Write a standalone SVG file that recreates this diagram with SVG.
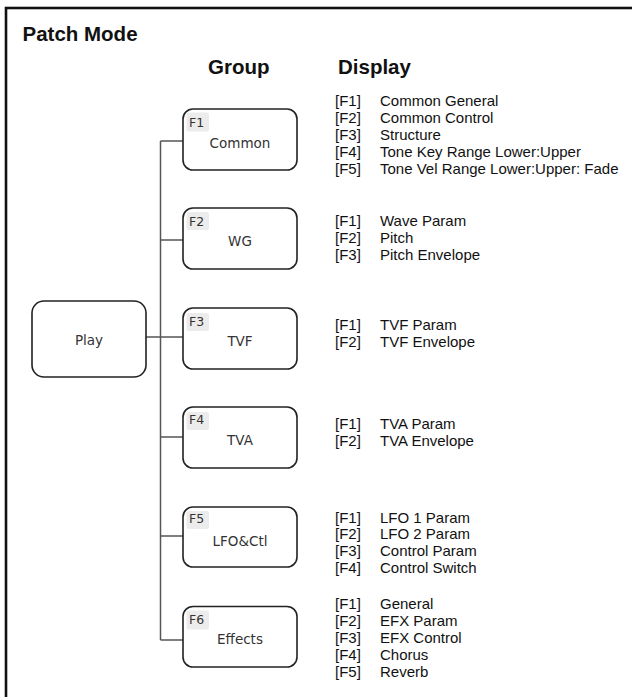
<svg xmlns="http://www.w3.org/2000/svg" width="632" height="697" viewBox="0 0 632 697">
<style>
.frame{fill:none;stroke:#111;stroke-width:2.6}
.title{font-family:"Liberation Sans",Arial,sans-serif;font-weight:bold;font-size:20.5px;fill:#111}
.box{fill:#fff;stroke:#222;stroke-width:1.6}
.tag{fill:#ececec}
.tagt{font-family:"DejaVu Sans",sans-serif;font-size:12.5px;fill:#333}
.lbl{font-family:"DejaVu Sans",sans-serif;font-size:13.5px;fill:#333;text-anchor:middle}
.conn{fill:none;stroke:#555;stroke-width:1.5}
.d{font-family:"Liberation Sans",Arial,sans-serif;font-size:15px;fill:#111}
</style>
<rect class="frame" x="6" y="8" width="700" height="750"/>
<text class="title" x="22.5" y="40.5">Patch Mode</text>
<text class="title" x="208" y="74">Group</text>
<text class="title" x="338" y="74">Display</text>

<g id="connectors">
<path class="conn" d="M160.5 141 V640"/>
<path class="conn" d="M160.5 141 H183"/>
<path class="conn" d="M160.5 240 H183"/>
<path class="conn" d="M146 337 H183"/>
<path class="conn" d="M160.5 437 H183"/>
<path class="conn" d="M160.5 536 H183"/>
<path class="conn" d="M160.5 640 H183"/>
</g>

<g id="play">
<rect class="box" x="32" y="301" width="114" height="76" rx="12"/>
<text class="lbl" x="89" y="345">Play</text>
</g>

<g id="common">
<rect class="box" x="183" y="109" width="114" height="61" rx="10"/>
<rect class="tag" x="186.5" y="112.5" width="22.5" height="19" rx="2"/>
<text class="tagt" x="189" y="127">F1</text>
<text class="lbl" x="240" y="147.5">Common</text>
</g>
<g id="wg">
<rect class="box" x="183" y="208" width="114" height="61" rx="10"/>
<rect class="tag" x="186.5" y="212" width="22.5" height="18" rx="2"/>
<text class="tagt" x="189" y="226">F2</text>
<text class="lbl" x="240" y="246">WG</text>
</g>
<g id="tvf">
<rect class="box" x="183" y="308" width="114" height="61" rx="10"/>
<rect class="tag" x="186.5" y="313" width="22.5" height="18" rx="2"/>
<text class="tagt" x="189" y="326">F3</text>
<text class="lbl" x="240" y="346">TVF</text>
</g>
<g id="tva">
<rect class="box" x="183" y="407" width="114" height="61" rx="10"/>
<rect class="tag" x="186.5" y="412" width="22.5" height="18" rx="2"/>
<text class="tagt" x="189" y="424">F4</text>
<text class="lbl" x="240" y="445">TVA</text>
</g>
<g id="lfo">
<rect class="box" x="183" y="507" width="114" height="60" rx="10"/>
<rect class="tag" x="186.5" y="511" width="22.5" height="18" rx="2"/>
<text class="tagt" x="189" y="523">F5</text>
<text class="lbl" x="240" y="546">LFO&amp;Ctl</text>
</g>
<g id="effects">
<rect class="box" x="183" y="606.5" width="114" height="60.5" rx="10"/>
<rect class="tag" x="186.5" y="610.5" width="22.5" height="19" rx="2"/>
<text class="tagt" x="189" y="624">F6</text>
<text class="lbl" x="240" y="644">Effects</text>
</g>

<g id="display-common">
<text class="d" x="335" y="106">[F1]</text><text class="d" x="380" y="106">Common General</text>
<text class="d" x="335" y="123">[F2]</text><text class="d" x="380" y="123">Common Control</text>
<text class="d" x="335" y="140">[F3]</text><text class="d" x="380" y="140">Structure</text>
<text class="d" x="335" y="157">[F4]</text><text class="d" x="380" y="157">Tone Key Range Lower:Upper</text>
<text class="d" x="335" y="174">[F5]</text><text class="d" x="380" y="174">Tone Vel Range Lower:Upper: Fade</text>
</g>
<g id="display-wg">
<text class="d" x="335" y="226">[F1]</text><text class="d" x="380" y="226">Wave Param</text>
<text class="d" x="335" y="243">[F2]</text><text class="d" x="380" y="243">Pitch</text>
<text class="d" x="335" y="260">[F3]</text><text class="d" x="380" y="260">Pitch Envelope</text>
</g>
<g id="display-tvf">
<text class="d" x="335" y="330">[F1]</text><text class="d" x="380" y="330">TVF Param</text>
<text class="d" x="335" y="347">[F2]</text><text class="d" x="380" y="347">TVF Envelope</text>
</g>
<g id="display-tva">
<text class="d" x="335" y="429">[F1]</text><text class="d" x="380" y="429">TVA Param</text>
<text class="d" x="335" y="446">[F2]</text><text class="d" x="380" y="446">TVA Envelope</text>
</g>
<g id="display-lfo">
<text class="d" x="335" y="522.5">[F1]</text><text class="d" x="380" y="522.5">LFO 1 Param</text>
<text class="d" x="335" y="539">[F2]</text><text class="d" x="380" y="539">LFO 2 Param</text>
<text class="d" x="335" y="556">[F3]</text><text class="d" x="380" y="556">Control Param</text>
<text class="d" x="335" y="572.5">[F4]</text><text class="d" x="380" y="572.5">Control Switch</text>
</g>
<g id="display-effects">
<text class="d" x="335" y="609">[F1]</text><text class="d" x="380" y="609">General</text>
<text class="d" x="335" y="626">[F2]</text><text class="d" x="380" y="626">EFX Param</text>
<text class="d" x="335" y="643">[F3]</text><text class="d" x="380" y="643">EFX Control</text>
<text class="d" x="335" y="660">[F4]</text><text class="d" x="380" y="660">Chorus</text>
<text class="d" x="335" y="677">[F5]</text><text class="d" x="380" y="677">Reverb</text>
</g>
</svg>
